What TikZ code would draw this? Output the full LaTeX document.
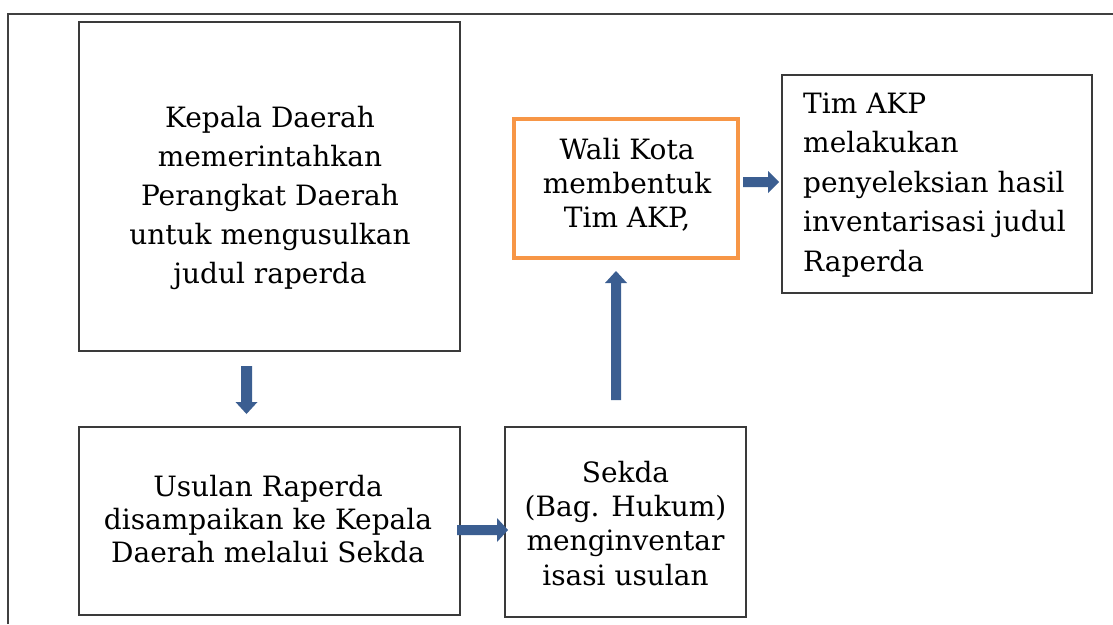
\documentclass[tikz,border=0pt]{standalone}
\usepackage{fontspec}
\setmainfont{DejaVu Serif}
\definecolor{boxgray}{HTML}{3A3A3A}
\definecolor{framegray}{HTML}{404040}
\definecolor{akporange}{HTML}{F79646}
\definecolor{arrowblue}{HTML}{3B5E91}
\begin{document}
\begin{tikzpicture}[x=1pt,y=-1pt,
  box/.style={draw=boxgray, line width=1.3pt, inner sep=0pt},
  obox/.style={draw=akporange, line width=3.5pt, inner sep=0pt},
  txt/.style={inner sep=0pt, align=center, font=\fontsize{28}{39}\selectfont},
  blockarrow/.style={fill=arrowblue, draw=none}]
\useasboundingbox (0,0) rectangle (1113,624);
% outer frame
\draw[framegray, line width=1.5pt] (8,624) -- (8,14) -- (1113,14);
% boxes
\node[box, minimum width=381pt, minimum height=329pt] (b1) at (269.5,186.5) {};
\node[box, minimum width=381pt, minimum height=188pt] (b2) at (269.5,521) {};
\node[box, minimum width=241pt, minimum height=190pt] (b3) at (625.5,522) {};
\node[obox, minimum width=224pt, minimum height=139pt] (b4) at (626,188.5) {};
\node[box, minimum width=310pt, minimum height=218pt] (b5) at (937,184) {};
% texts (anchor base = baseline of last line)
\node[txt, anchor=base] (t1) at (270,283) {Kepala Daerah\\memerintahkan\\Perangkat Daerah\\untuk mengusulkan\\judul raperda};
\node[txt, anchor=base, font=\fontsize{28}{33}\selectfont] (t2) at (268,562) {Usulan Raperda\\disampaikan ke Kepala\\Daerah melalui Sekda};
\node[txt, anchor=base, font=\fontsize{28}{34.3}\selectfont] (t3) at (625.5,585) {Sekda\\(Bag. Hukum)\\menginventar\\isasi usulan};
\node[txt, anchor=base, font=\fontsize{28}{34}\selectfont] (t4) at (627,227) {Wali Kota\\membentuk\\Tim AKP,};
\node[txt, anchor=base west, align=left, font=\fontsize{28}{39.5}\selectfont] (t5) at (803,271) {Tim AKP\\melakukan\\penyeleksian hasil\\inventarisasi judul\\Raperda};
% block arrows
\fill[blockarrow] (241,366) -- (252,366) -- (252,402) -- (257.5,402) -- (246.5,414) -- (235.5,402) -- (241,402) -- cycle;
\fill[blockarrow] (457,525) -- (497,525) -- (497,518) -- (508,530) -- (497,542) -- (497,535) -- (457,535) -- cycle;
\fill[blockarrow] (611,400) -- (611,283) -- (605,283) -- (616,271) -- (627,283) -- (621,283) -- (621,400) -- cycle;
\fill[blockarrow] (743,177) -- (768,177) -- (768,171) -- (779,182) -- (768,193) -- (768,187) -- (743,187) -- cycle;
\end{tikzpicture}
\end{document}
